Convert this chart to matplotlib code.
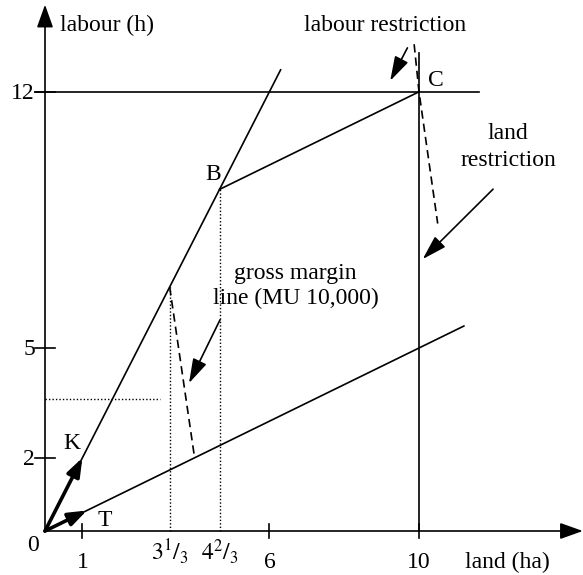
import matplotlib.pyplot as plt

plt.rcParams['font.family'] = ['Liberation Serif', 'DejaVu Serif']
plt.rcParams['mathtext.fontset'] = 'stix'

# activities: K needs 2 h labour per ha, T needs 0.5 h per ha
k_x = [0, 6.3]
k_y = [0, 12.6]
t_x = [0, 11.2]
t_y = [0, 5.6]
b_pt = (14 / 3, 28 / 3)
c_pt = (10, 12)
labour_limit = 12
land_limit = 10

# gross margin lines (dashed)
gm1_x = [10 / 3, 4.0]
gm1_y = [20 / 3, 2.0]
gm2_x = [9.87, 10.0, 10.5]
gm2_y = [13.3, 12.0, 8.4]

# helper dotted lines
dot_x = [10 / 3, 14 / 3]
dot_top = [20 / 3, 28 / 3]
dot_h_y = 3.6
dot_h_x = [0, 3.07]

xticks = [1, 10 / 3, 14 / 3, 6, 10]
xtick_labels = ['1', r'$3^{1}/_{3}$', r'$4^{2}/_{3}$', '6', '10']
yticks = [2, 5, 12]

fig = plt.figure(figsize=(5.83, 5.75), dpi=100)
ax = fig.add_axes([0, 0, 1, 1])
ax.set_xlim(-45 / 37.4, 538 / 37.4)
ax.set_ylim(-44 / 36.6, 531 / 36.6)
ax.set_axis_off()

lw = 1.2
k = 'black'

# axes with arrow heads
axis_arr = dict(arrowstyle='-|>,head_length=1.4,head_width=0.5', lw=lw, color=k,
                shrinkA=0, shrinkB=0)
ax.annotate('', xy=(14.38, 0), xytext=(0, 0), arrowprops=axis_arr)
ax.annotate('', xy=(0, 14.38), xytext=(0, 0), arrowprops=axis_arr)

# ticks crossing the axes
for xv in [1, 6, 10]:
    ax.plot([xv, xv], [-0.2, 0.2], color=k, lw=lw)
for yv in yticks:
    ax.plot([-0.27, 0.27], [yv, yv], color=k, lw=lw)

# constraints
ax.plot([-0.27, 11.6], [labour_limit, labour_limit], color=k, lw=lw)
ax.plot([land_limit, land_limit], [0, 13.05], color=k, lw=lw)

# activity lines
ax.plot(k_x, k_y, color=k, lw=lw)
ax.plot(t_x, t_y, color=k, lw=lw)
ax.plot([b_pt[0], c_pt[0]], [b_pt[1], c_pt[1]], color=k, lw=lw)

# thick unit vectors
vec_arr = dict(arrowstyle='-|>,head_length=1.1,head_width=0.4', lw=2.6, color=k,
               shrinkA=0, shrinkB=0)
ax.annotate('', xy=(1, 2), xytext=(0, 0), arrowprops=vec_arr)
ax.annotate('', xy=(1.12, 0.56), xytext=(0, 0), arrowprops=vec_arr)

# dotted guides
for xv, top in zip(dot_x, dot_top):
    ax.plot([xv, xv], [0, top], color=k, lw=1.0, ls=(0, (1, 1.5)))
ax.plot(dot_h_x, [dot_h_y, dot_h_y], color=k, lw=1.0, ls=(0, (1, 1.5)))

# gross margin lines
ax.plot(gm1_x, gm1_y, color=k, lw=1.2, ls=(0, (5, 3)))
ax.plot(gm2_x, gm2_y, color=k, lw=1.2, ls=(0, (5, 3)))

# pointer arrows
arr = dict(arrowstyle='-|>,head_length=1.5,head_width=0.45', lw=1.2, color=k,
           shrinkA=0, shrinkB=0)
ax.annotate('', xy=(9.23, 12.3), xytext=(9.69, 13.2), arrowprops=arr)
ax.annotate('', xy=(10.1, 7.43), xytext=(11.98, 9.34), arrowprops=arr)
ax.annotate('', xy=(3.85, 4.04), xytext=(4.68, 5.77), arrowprops=arr)

fs = 17
# tick labels
for xv, lab in zip(xticks, xtick_labels):
    yy = -0.55 if xv in (10 / 3, 14 / 3) else -0.85
    ax.text(xv, yy, lab, ha='center', va='center', fontsize=fs)
ax.text(-0.32, -0.4, '0', ha='center', va='center', fontsize=fs)
for yv in yticks:
    ax.text(-0.27, yv - 0.05, str(yv), ha='right', va='center', fontsize=fs)

# axis titles and annotations
ax.text(0.4, 13.8, 'labour (h)', ha='left', va='center', fontsize=fs)
ax.text(12.35, -0.85, 'land (ha)', ha='center', va='center', fontsize=fs)
ax.text(9.1, 13.8, 'labour restriction', ha='center', va='center', fontsize=fs)
ax.text(12.38, 10.5, 'land\nrestriction', ha='center', va='center', fontsize=fs,
        linespacing=1.35)
ax.text(6.7, 6.7, 'gross margin\nline (MU 10,000)', ha='center', va='center',
        fontsize=fs, linespacing=1.25)
ax.text(10.45, 12.3, 'C', ha='center', va='center', fontsize=fs)
ax.text(4.5, 9.75, 'B', ha='center', va='center', fontsize=fs)
ax.text(0.72, 2.4, 'K', ha='center', va='center', fontsize=fs)
ax.text(1.6, 0.3, 'T', ha='center', va='center', fontsize=fs)

fig.savefig('out.png', dpi=100)
